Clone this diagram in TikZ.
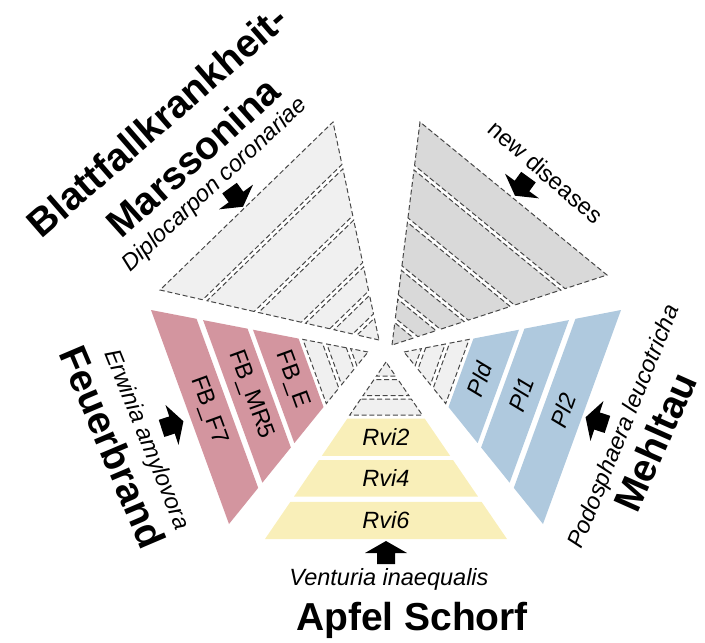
\documentclass[tikz,border=0pt]{standalone}
\usepackage{fontspec}
\setmainfont{Liberation Sans}
\usetikzlibrary{calc}
\definecolor{fbpink}{HTML}{D3959F}
\definecolor{plblue}{HTML}{AFC9DE}
\definecolor{rviyellow}{HTML}{F9EFB9}
\definecolor{lightgrey}{HTML}{F0F0F0}
\definecolor{midgrey}{HTML}{D9D9D9}

\begin{document}
\begin{tikzpicture}[x=1pt, y=-1pt,
    dashband/.style = {draw=black!72, line width=1pt, dash pattern=on 5pt off 2.8pt, fill=#1},
    small/.style = {font=\fontsize{23.5}{28}\selectfont, inner sep=0pt},
    big/.style = {font=\fontsize{39}{44}\selectfont\bfseries, inner sep=0pt},
    fatarrow/.pic = {\fill (0,-12) -- (21,0) -- (9,0) -- (9,11) -- (-9,11) -- (-9,0) -- (-21,0) -- cycle;}]
    \useasboundingbox (0,0) rectangle (705,643);
    \coordinate (sT) at (386,362); \coordinate (sP) at (265,539); \coordinate (sQ) at (507,539);
    \coordinate (fT) at (368,352); \coordinate (fP) at (151,310); \coordinate (fQ) at (229,524);
    \coordinate (mT) at (404,352); \coordinate (mP) at (621,310); \coordinate (mQ) at (543,524);
    \coordinate (bT) at (379,340); \coordinate (bP) at (160,290); \coordinate (bQ) at (333,122);
    \coordinate (nT) at (392,345); \coordinate (nP) at (420,122); \coordinate (nQ) at (607,275);
    \coordinate (sM) at ($(sP)!0.5!(sQ)$);
    \coordinate (fM) at ($(fP)!0.5!(fQ)$);
    \coordinate (mM) at ($(mP)!0.5!(mQ)$);

    \foreach \s in {s,f,m}
      \foreach \a/\b in {0/0.08, 0.1/0.19, 0.21/0.3}
        \draw[dashband=lightgrey] ($(\s T)!\a!(\s P)$) -- ($(\s T)!\b!(\s P)$) -- ($(\s T)!\b!(\s Q)$) -- ($(\s T)!\a!(\s Q)$) -- cycle;
    \foreach \s/\c in {b/lightgrey, n/midgrey}
      \foreach \a/\b in {0/0.1, 0.12/0.205, 0.225/0.335, 0.355/0.55, 0.57/0.785, 0.805/1}
        \draw[dashband=\c] ($(\s T)!\a!(\s P)$) -- ($(\s T)!\b!(\s P)$) -- ($(\s T)!\b!(\s Q)$) -- ($(\s T)!\a!(\s Q)$) -- cycle;

    \foreach \a/\b/\n/\t in {0.32/0.53/rvitwo/Rvi2, 0.555/0.76/rvifour/Rvi4, 0.79/1/rvisix/Rvi6} {
        \pgfmathsetmacro\m{(\a+\b)/2}
        \fill[rviyellow] ($(sT)!\a!(sP)$) -- ($(sT)!\b!(sP)$) -- ($(sT)!\b!(sQ)$) -- ($(sT)!\a!(sQ)$) -- cycle;
        \node[small] (\n) at ($(sT)!\m!(sM)$) {\itshape\t};
    }
    \foreach \a/\b/\n/\t in {0.32/0.53/fbe/FB\_E, 0.555/0.76/fbmr/FB\_MR5, 0.79/1/fbf/FB\_F7} {
        \pgfmathsetmacro\m{(\a+\b)/2}
        \fill[fbpink] ($(fT)!\a!(fP)$) -- ($(fT)!\b!(fP)$) -- ($(fT)!\b!(fQ)$) -- ($(fT)!\a!(fQ)$) -- cycle;
        \node[small, rotate=-70] (\n) at ($(fT)!\m!(fM)$) {\t};
    }
    \foreach \a/\b/\n/\t in {0.32/0.53/pld/Pld, 0.555/0.76/plone/Pl1, 0.79/1/pltwo/Pl2} {
        \pgfmathsetmacro\m{(\a+\b)/2}
        \fill[plblue] ($(mT)!\a!(mP)$) -- ($(mT)!\b!(mP)$) -- ($(mT)!\b!(mQ)$) -- ($(mT)!\a!(mQ)$) -- cycle;
        \node[small, rotate=70] (\n) at ($(mT)!\m!(mM)$) {\itshape\t};
    }

    \pic at (386,553) {fatarrow};
    \pic[rotate=-72] at (172,425) {fatarrow};
    \pic[rotate=72] at (597,421) {fatarrow};
    \pic[rotate=-144] at (236,197) {fatarrow};
    \pic[rotate=144] at (522,186) {fatarrow};

    \node[small] (venturia) at (389,579) {\itshape Venturia inaequalis};
    \node[big] (schorf) at (412,620) {Apfel Schorf};
    \node[small, rotate=-68] (erwinia) at (146,440) {\itshape Erwinia amylovora};
    \node[big, rotate=-67] (feuerbrand) at (113,447) {Feuerbrand};
    \node[small, rotate=68] (podosphaera) at (625,427) {\itshape Podosphaera leucotricha};
    \node[big, rotate=66] (mehltau) at (655,442) {Mehltau};
    \node[big, rotate=41] (blattfall) at (157,121) {Blattfallkrankheit-};
    \node[big, rotate=42] (marssonina) at (193,157) {Marssonina};
    \node[small, rotate=43] (diplocarpon) at (215,185) {\itshape Diplocarpon coronariae};
    \node[small, rotate=-41] (newdis) at (546,172) {new diseases};
\end{tikzpicture}
\end{document}
